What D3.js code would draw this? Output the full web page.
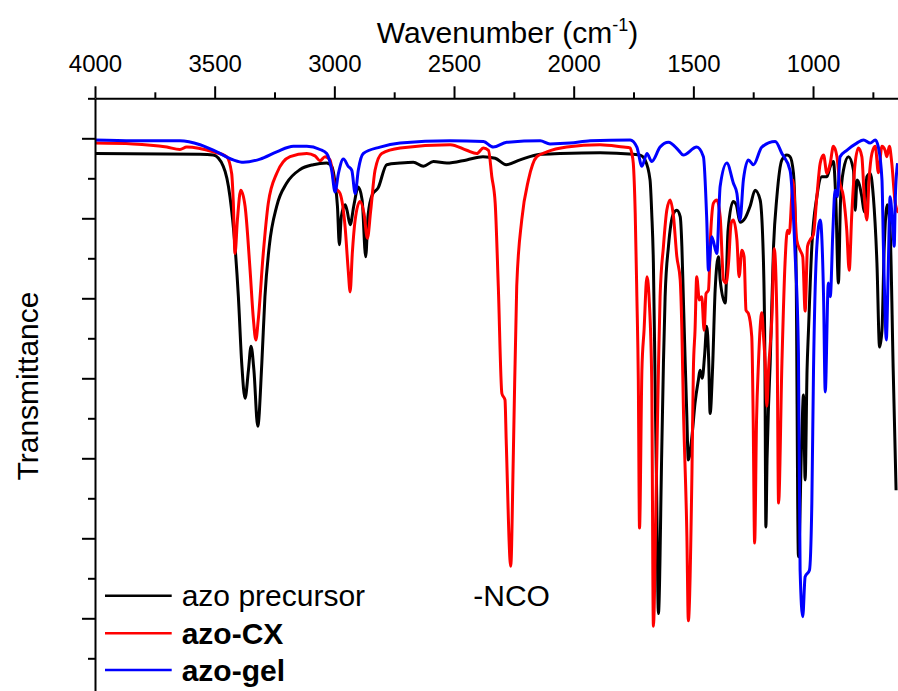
<!DOCTYPE html>
<html>
<head>
<meta charset="utf-8">
<script src="https://cdn.jsdelivr.net/npm/d3@7"></script>
<style>
  body { margin: 0; background: #fff; }
  svg text { font-family: "Liberation Sans", Arial, sans-serif; fill: #000; }
</style>
</head>
<body>
<svg id="ftir" width="898" height="691"></svg>
<script>
/* tick values */
const xTicks = [4000, 3500, 3000, 2500, 2000, 1500, 1000]
const xMinorTicks = [3750, 3250, 2750, 2250, 1750, 1250, 750]
const yTicks = [100, 90, 80, 70, 60, 50, 40]
const yMinorTicks = [105, 95, 85, 75, 65, 55, 45, 35]

const seriesNames = ['azo precursor', 'azo-CX', 'azo-gel']
const seriesColors = ['#000000', '#ff0000', '#0000ff']

/* [wavenumber, transmittance] */
const precursor = [[4000,98.1],[3561,98.0],[3506,97.9],[3464,96.5],[3436,92.7],[3415,86.5],[3401,80.2],[3387,71.9],[3373,67.5],[3359,71.0],[3348,74.0],[3336,71.0],[3320,64.0],[3303,71.9],[3290,80.2],[3272,86.5],[3241,91.5],[3199,94.4],[3143,96.1],[3088,96.7],[3032,96.9],[3011,96.5],[2997,94.4],[2987,91.5],[2979,86.7],[2971,90.2],[2955,91.7],[2947,91.0],[2934,89.2],[2918,91.7],[2900,93.9],[2884,92.3],[2869,85.2],[2859,90.4],[2842,92.9],[2817,93.8],[2781,96.7],[2725,96.9],[2670,97.0],[2628,96.5],[2586,97.1],[2530,96.9],[2447,97.3],[2379,97.7],[2328,97.5],[2282,96.7],[2224,97.3],[2140,98.0],[2057,98.1],[1890,98.2],[1751,98.0],[1722,97.9],[1702,97.3],[1681,94.8],[1674,90.7],[1667,84.4],[1660,69.8],[1653,54.8],[1646,40.6],[1632,61.0],[1625,71.9],[1618,80.2],[1604,86.5],[1583,90.6],[1569,91.0],[1555,90.2],[1548,86.5],[1542,80.2],[1534,71.9],[1528,66.0],[1521,59.8],[1506,62.7],[1493,66.9],[1479,69.8],[1472,71.0],[1463,70.0],[1453,72.9],[1444,76.5],[1436,72.3],[1430,65.6],[1420,71.0],[1409,81.0],[1395,85.2],[1388,82.3],[1367,79.4],[1355,88.5],[1334,92.1],[1321,91.7],[1305,89.5],[1284,90.0],[1263,91.5],[1242,93.5],[1221,92.3],[1207,84.4],[1201,72.0],[1197,51.4],[1192,60.0],[1186,66.5],[1179,71.9],[1165,86.5],[1151,92.7],[1130,97.3],[1109,97.9],[1096,97.7],[1082,95.7],[1071,84.4],[1061,47.7],[1047,62.7],[1040,67.9],[1033,57.3],[1025,71.0],[1019,76.0],[1005,86.5],[984,92.7],[963,95.2],[942,95.2],[928,96.5],[915,97.1],[905,92.5],[894,81.9],[885,92.3],[873,96.0],[852,97.7],[831,96.0],[824,91.0],[816,94.8],[796,92.7],[786,90.8],[775,95.2],[761,95.6],[748,92.7],[733,84.4],[722,73.9],[712,76.0],[703,86.0],[690,91.7],[678,88.5],[665,71.0],[653,56.0]]

const azoCX = [[4000,99.4],[3841,99.3],[3700,98.9],[3645,98.6],[3617,98.9],[3506,98.3],[3450,97.7],[3429,95.6],[3422,91.9],[3415,85.6],[3405,89.8],[3391,93.5],[3373,91.5],[3352,83.5],[3338,77.3],[3328,74.8],[3318,77.3],[3297,85.6],[3276,91.9],[3241,95.6],[3185,97.7],[3115,98.1],[3081,97.8],[3060,97.2],[3039,97.7],[3018,97.3],[2997,93.9],[2976,93.1],[2955,88.9],[2942,83.5],[2934,80.8],[2925,85.6],[2913,89.8],[2893,92.1],[2876,90.6],[2862,87.5],[2848,91.0],[2830,96.0],[2802,98.1],[2725,98.8],[2516,99.2],[2447,98.5],[2405,98.1],[2377,98.8],[2356,98.5],[2342,95.2],[2328,91.9],[2315,81.5],[2300,68.1],[2287,67.3],[2282,62.3],[2263,46.5],[2252,60.7],[2238,81.5],[2217,89.8],[2189,94.8],[2154,97.7],[2112,98.3],[2029,98.9],[1890,99.2],[1792,98.9],[1764,98.8],[1757,98.1],[1751,96.9],[1743,90.7],[1736,80.2],[1730,69.8],[1725,51.3],[1715,71.0],[1706,76.0],[1694,82.7],[1684,79.5],[1674,69.8],[1667,39.0],[1656,54.8],[1646,71.0],[1639,80.2],[1625,86.5],[1611,91.0],[1597,92.3],[1583,90.2],[1569,85.2],[1555,82.3],[1548,76.0],[1542,66.9],[1527,50.2],[1521,39.7],[1506,58.0],[1500,71.0],[1493,76.0],[1486,82.7],[1475,79.8],[1465,80.2],[1455,76.0],[1447,80.6],[1437,81.0],[1427,88.5],[1416,91.9],[1402,92.3],[1388,90.2],[1374,82.3],[1363,81.9],[1353,84.4],[1342,89.4],[1333,89.8],[1318,87.3],[1309,82.7],[1297,86.0],[1288,85.2],[1280,78.5],[1270,78.1],[1256,75.2],[1250,64.8],[1244,49.4],[1236,64.8],[1228,71.9],[1214,78.2],[1207,75.3],[1200,71.9],[1193,66.5],[1186,71.0],[1172,77.5],[1162,86.2],[1151,77.5],[1144,54.4],[1130,71.9],[1117,84.4],[1107,88.5],[1099,88.1],[1089,92.7],[1084,94.8],[1068,87.3],[1054,86.0],[1043,85.2],[1033,78.4],[1023,86.5],[1012,87.3],[999,87.9],[984,92.7],[970,96.9],[956,97.9],[942,95.6],[928,96.9],[915,99.0],[900,97.7],[890,94.8],[873,92.7],[859,88.5],[849,83.5],[838,90.6],[824,96.9],[810,98.8],[796,97.7],[786,92.7],[775,89.8],[766,94.8],[754,98.1],[740,99.0],[727,95.7],[712,99.0],[699,98.5],[692,97.7],[681,99.0],[671,96.9],[657,92.0],[644,90.7]]

const azoGel = [[4000,99.8],[3840,99.7],[3645,99.7],[3561,99.2],[3491,98.3],[3422,97.3],[3380,97.0],[3310,97.4],[3241,98.3],[3171,99.0],[3115,99.0],[3060,98.6],[3032,98.1],[3011,96.0],[2997,93.3],[2983,95.6],[2962,97.4],[2942,96.5],[2927,96.0],[2913,93.1],[2900,96.0],[2879,98.1],[2809,98.9],[2725,99.4],[2516,99.7],[2377,99.6],[2336,98.9],[2280,99.5],[2140,99.7],[2099,99.3],[2015,99.4],[1931,99.7],[1764,99.8],[1736,98.9],[1715,96.5],[1694,98.1],[1674,97.1],[1639,98.9],[1604,99.5],[1562,98.5],[1542,97.9],[1486,98.9],[1458,97.7],[1444,89.8],[1437,83.5],[1423,87.7],[1402,85.6],[1388,94.0],[1360,96.9],[1333,94.4],[1318,93.1],[1305,89.8],[1291,94.8],[1270,97.3],[1249,96.7],[1214,98.9],[1158,99.6],[1130,98.1],[1096,96.0],[1075,85.6],[1061,73.1],[1054,46.0],[1043,40.2],[1033,45.2],[1015,46.0],[1005,54.4],[998,71.0],[984,86.5],[970,89.8],[956,80.2],[949,68.3],[936,81.9],[928,80.2],[917,88.5],[908,93.5],[898,92.7],[887,97.7],[859,98.5],[817,99.4],[789,99.8],[761,99.4],[740,99.8],[727,98.9],[712,94.8],[706,86.5],[699,78.1],[694,74.8],[685,84.7],[678,92.7],[666,88.5],[661,86.5],[656,92.7],[647,96.9]]

const allSeries = [precursor, azoCX, azoGel]

const svg = d3.select('#ftir')

/* wavenumber runs right to left, plot is cut at the right edge */
const x = d3.scaleLinear().domain([4000, 645]).range([95, 898])
const y = d3.scaleLinear().domain([105, 30]).range([98.3, 698.3])

/* spectra */
const line = d3.line()
    .x(d => x(d[0]))
    .y(d => y(d[1]))
    .curve(d3.curveMonotoneX)

svg.append('g').classed('spectra', true)
    .selectAll('path')
    .data(allSeries)
    .join('path')
    .attr('d', line)
    .attr('fill', 'none')
    .attr('stroke', (d, i) => seriesColors[i])
    .attr('stroke-width', 3)
    .attr('stroke-linejoin', 'round')

/* top axis */
const topAxis = svg.append('g')
    .attr('transform', `translate(0,${y(105)})`)
    .call(d3.axisTop(x).tickValues(xTicks).tickSize(12).tickSizeOuter(0).tickPadding(14.5).tickFormat(d3.format('d')))
svg.append('g')
    .attr('transform', `translate(0,${y(105)})`)
    .call(d3.axisTop(x).tickValues(xMinorTicks).tickSize(6).tickSizeOuter(0).tickFormat(''))
    .call(g => g.select('.domain').remove())

/* left axis, no labels */
svg.append('g')
    .attr('transform', `translate(${x(4000)},0)`)
    .call(d3.axisLeft(y).tickValues(yTicks).tickSize(13).tickSizeOuter(0).tickFormat(''))
svg.append('g')
    .attr('transform', `translate(${x(4000)},0)`)
    .call(d3.axisLeft(y).tickValues(yMinorTicks).tickSize(7).tickSizeOuter(0).tickFormat(''))
    .call(g => g.select('.domain').remove())

svg.selectAll('.domain, .tick line')
    .attr('stroke', '#000')
    .attr('stroke-width', 2)
topAxis.selectAll('text')
    .attr('font-size', 24)
    .attr('font-family', '"Liberation Sans", Arial, sans-serif')

/* axis titles */
const title = svg.append('text')
    .attr('x', 376.7)
    .attr('y', 43)
    .attr('font-size', 30)
title.append('tspan').text('Wavenumber (cm')
title.append('tspan').attr('font-size', 18).attr('dy', -12).text('-1')
title.append('tspan').attr('dy', 12).text(')')

svg.append('text')
    .attr('transform', 'translate(38,386) rotate(-90)')
    .attr('text-anchor', 'middle')
    .attr('font-size', 30)
    .text('Transmittance')

/* peak annotation */
svg.append('text')
    .attr('x', 473.3)
    .attr('y', 605.7)
    .attr('font-size', 30)
    .text('-NCO')

/* legend */
const legendY = [595.7, 633.3, 670]
const legend = svg.append('g').selectAll('g')
    .data(seriesNames)
    .join('g')
    .attr('transform', (d, i) => `translate(105,${legendY[i]})`)
legend.append('line')
    .attr('x1', 0).attr('x2', 66.7)
    .attr('stroke', (d, i) => seriesColors[i])
    .attr('stroke-width', 2.5)
legend.append('text')
    .attr('x', 76.7)
    .attr('y', 10.5)
    .attr('font-size', 30)
    .attr('font-weight', (d, i) => i === 0 ? 'normal' : 'bold')
    .text(d => d)
</script>
</body>
</html>
